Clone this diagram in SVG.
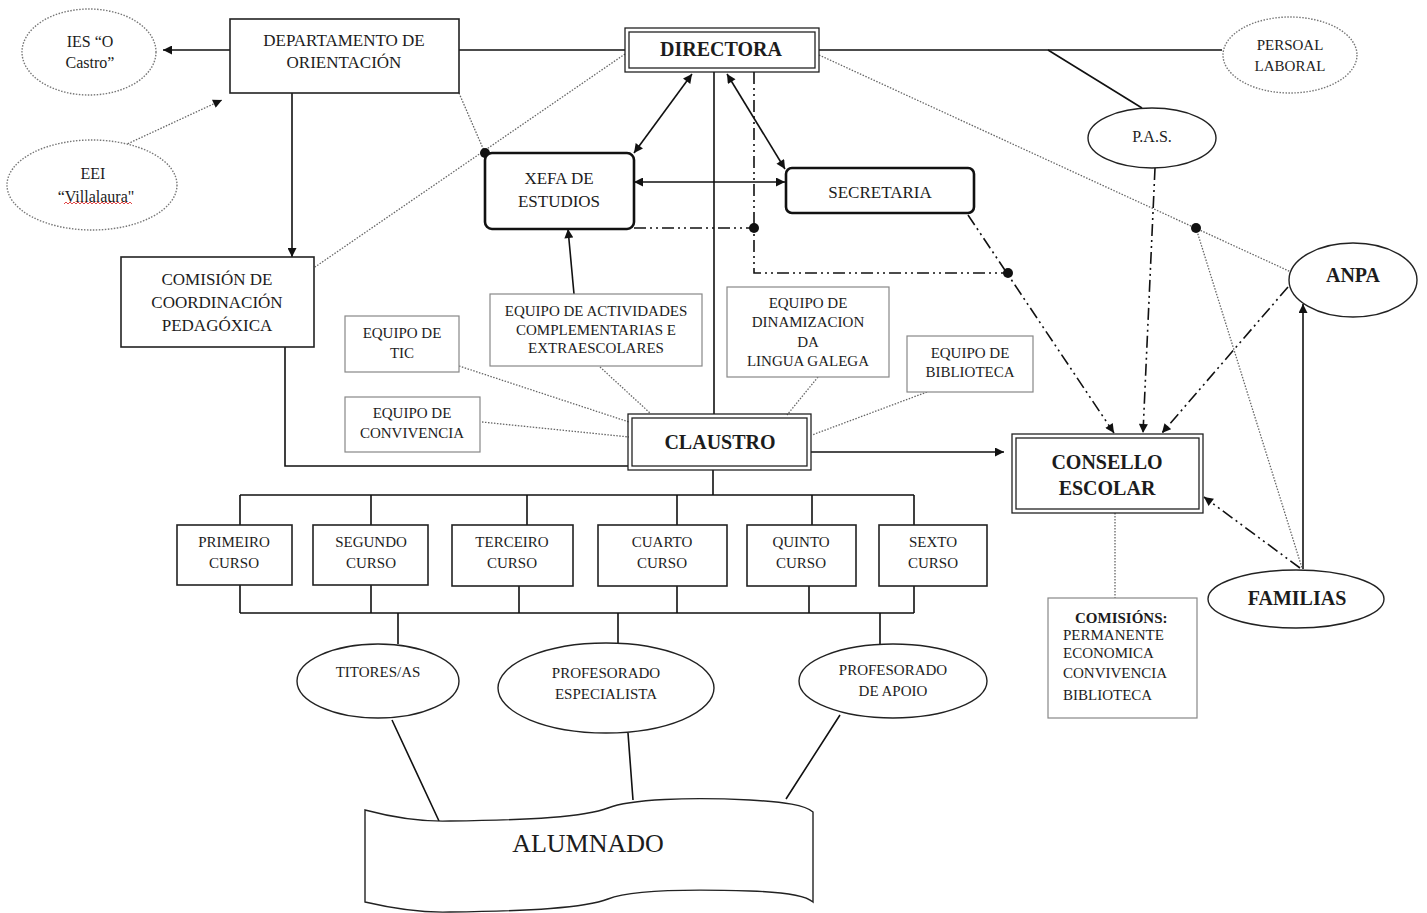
<svg xmlns="http://www.w3.org/2000/svg" width="1427" height="913" viewBox="0 0 1427 913">
<defs>
<marker id="arr" viewBox="0 0 10 10" refX="10" refY="5" markerWidth="10" markerHeight="9" markerUnits="userSpaceOnUse" orient="auto-start-reverse"><path d="M0,0 L10,5 L0,10 z" fill="#111" stroke="none"/></marker>
</defs>
<style>
text{font-family:"Liberation Serif","Times New Roman",serif;fill:#1c1c1c;text-anchor:middle;dominant-baseline:central}
.t15{font-size:15px}.t16{font-size:16px}.t17{font-size:17px}
.b{font-weight:bold;font-size:20px}
.box{fill:#fff;stroke:#222;stroke-width:1.6}
.gbox{fill:#fff;stroke:#888;stroke-width:1.2}
.rbox{fill:#fff;stroke:#111;stroke-width:2.6}
.dbox{fill:none;stroke:#222;stroke-width:1.3}
.ell{fill:#fff;stroke:#222;stroke-width:1.4}
.dell{fill:#fff;stroke:#777;stroke-width:1.4;stroke-dasharray:1.5 1.5}
.s{fill:none;stroke:#111;stroke-width:1.6}
.d{fill:none;stroke:#666;stroke-width:1.3;stroke-dasharray:1.5 1.5}
.dd{fill:none;stroke:#111;stroke-width:1.6;stroke-dasharray:12 4 2 4 2 4}
.ae{marker-end:url(#arr)}
.a2{marker-start:url(#arr);marker-end:url(#arr)}
.dot{fill:#111}
</style>
<rect width="1427" height="913" fill="#fff"/>

<g id="connectors">
<path class="s ae" d="M230,50 L163,50"/>
<path class="s" d="M459,50 L625,50"/>
<path class="s" d="M819,50 L1222,50"/>
<path class="s" d="M1048,50 L1142,108"/>
<path class="s a2" d="M692,74 L634,153"/>
<path class="s a2" d="M727,74 L785,169"/>
<path class="s a2" d="M634,182 L785,182"/>
<path class="s" d="M714,72 L714,414"/>
<path class="s ae" d="M292,93 L292,257"/>
<path class="s ae" d="M574,294 L568,229"/>
<path class="s" d="M285,347 L285,466 L628,466"/>
<path class="s ae" d="M811,452 L1004,452"/>
<path class="s ae" d="M1303,569 L1303,304"/>
<path class="s" d="M713,470 L713,495 M240,495 L914,495 M240,495 V525 M371,495 V525 M527,495 V525 M677,495 V525 M812,495 V525 M914,495 V525"/>
<path class="s" d="M240,585 V613 M371,585 V613 M519,586 V613 M677,586 V613 M809,586 V613 M914,586 V613 M240,613 H914 M398,613 V644 M618,613 V643 M880,613 V644"/>
<path class="s" d="M392,720 L439,821 M628,733 L633,800 M840,715 L786,799"/>

<path class="d ae" d="M125,145 L222,100"/>
<path class="d" d="M459,93 L485,153"/>
<path class="d" d="M625,54 L315,267"/>
<path class="d" d="M819,55 L1291,272"/>
<path class="d" d="M1196,228 L1302,568"/>
<path class="d" d="M459,366 L629,422"/>
<path class="d" d="M482,422 L629,437"/>
<path class="d" d="M600,367 L650,413"/>
<path class="d" d="M818,377 L787,415"/>
<path class="d" d="M927,392 L812,435"/>
<path class="d" d="M1115,513 V598"/>

<path class="dd" d="M754,72 V273 H1008"/>
<path class="dd" d="M634,228 H754"/>
<path class="dd ae" d="M968,215 L1114,433"/>
<path class="dd ae" d="M1155,168 L1143,433"/>
<path class="dd ae" d="M1288,287 L1162,433"/>
<path class="dd ae" d="M1300,568 L1204,497"/>

<circle class="dot" cx="485" cy="153" r="5"/>
<circle class="dot" cx="754" cy="228" r="5"/>
<circle class="dot" cx="1008" cy="273" r="5"/>
<circle class="dot" cx="1196" cy="228" r="5"/>
</g>

<g id="ies">
<ellipse class="dell" cx="89" cy="52" rx="67" ry="43"/>
<text class="t16" x="90" y="41">IES “O</text>
<text class="t16" x="90" y="62">Castro”</text>
</g>
<g id="eei">
<ellipse class="dell" cx="92" cy="185" rx="85" ry="45"/>
<text class="t16" x="93" y="173">EEI</text>
<text class="t16" x="96" y="196">“Villalaura"</text>
<path d="M64,204 l2,-2 l2,2 l2,-2 l2,2 l2,-2 l2,2 l2,-2 l2,2 l2,-2 l2,2 l2,-2 l2,2 l2,-2 l2,2 l2,-2 l2,2 l2,-2 l2,2 l2,-2 l2,2 l2,-2 l2,2 l2,-2 l2,2 l2,-2 l2,2 l2,-2 l2,2 l2,-2 l2,2 l2,-2 l2,2 l2,-2 l2,2" fill="none" stroke="#d33" stroke-width="0.9"/>
</g>
<g id="departamento">
<rect class="box" x="230" y="19" width="229" height="74"/>
<text class="t17" x="344" y="40">DEPARTAMENTO  DE</text>
<text class="t17" x="344" y="62">ORIENTACIÓN</text>
</g>
<g id="directora">
<rect class="dbox" x="625" y="28" width="194" height="44"/>
<rect class="dbox" x="629" y="32" width="186" height="36"/>
<text class="b" x="721" y="49">DIRECTORA</text>
</g>
<g id="persoal">
<ellipse class="dell" cx="1290" cy="55" rx="67" ry="38"/>
<text class="t15" x="1290" y="45">PERSOAL</text>
<text class="t15" x="1290" y="66">LABORAL</text>
</g>
<g id="pas">
<ellipse class="ell" cx="1152" cy="138" rx="64" ry="30"/>
<text class="t16" x="1152" y="136">P.A.S.</text>
</g>
<g id="xefa">
<rect class="rbox" x="485" y="153" width="149" height="76" rx="7"/>
<text class="t17" x="559" y="178">XEFA DE</text>
<text class="t17" x="559" y="201">ESTUDIOS</text>
</g>
<g id="secretaria">
<rect class="rbox" x="786" y="168" width="188" height="45" rx="6"/>
<text class="t17" x="880" y="192">SECRETARIA</text>
</g>
<g id="comision-coordinacion">
<rect class="box" x="121" y="257" width="193" height="90"/>
<text class="t17" x="217" y="279">COMISIÓN DE</text>
<text class="t17" x="217" y="302">COORDINACIÓN</text>
<text class="t17" x="217" y="325">PEDAGÓXICA</text>
</g>
<g id="equipo-tic">
<rect class="gbox" x="345" y="316" width="114" height="56"/>
<text class="t15" x="402" y="333">EQUIPO DE</text>
<text class="t15" x="402" y="353">TIC</text>
</g>
<g id="equipo-convivencia">
<rect class="gbox" x="345" y="397" width="135" height="55"/>
<text class="t15" x="412" y="413">EQUIPO DE</text>
<text class="t15" x="412" y="433">CONVIVENCIA</text>
</g>
<g id="equipo-actividades">
<rect class="gbox" x="490" y="294" width="212" height="72"/>
<text class="t15" x="596" y="311">EQUIPO DE ACTIVIDADES</text>
<text class="t15" x="596" y="330">COMPLEMENTARIAS E</text>
<text class="t15" x="596" y="348">EXTRAESCOLARES</text>
</g>
<g id="equipo-dinamizacion">
<rect class="gbox" x="727" y="287" width="162" height="90"/>
<text class="t15" x="808" y="303">EQUIPO DE</text>
<text class="t15" x="808" y="322">DINAMIZACION</text>
<text class="t15" x="808" y="342">DA</text>
<text class="t15" x="808" y="361">LINGUA GALEGA</text>
</g>
<g id="equipo-biblioteca">
<rect class="gbox" x="907" y="336" width="126" height="56"/>
<text class="t15" x="970" y="353">EQUIPO DE</text>
<text class="t15" x="970" y="372">BIBLIOTECA</text>
</g>
<g id="claustro">
<rect class="dbox" x="628" y="414" width="183" height="56"/>
<rect class="dbox" x="632" y="418" width="175" height="48"/>
<text class="b" x="720" y="442">CLAUSTRO</text>
</g>
<g id="anpa">
<ellipse class="ell" cx="1353" cy="280" rx="64" ry="37"/>
<text class="b" x="1353" y="275">ANPA</text>
</g>
<g id="consello">
<rect class="dbox" x="1012" y="434" width="191" height="79"/>
<rect class="dbox" x="1016" y="438" width="183" height="71"/>
<text class="b" x="1107" y="462">CONSELLO</text>
<text class="b" x="1107" y="488">ESCOLAR</text>
</g>
<g id="familias">
<ellipse class="ell" cx="1296" cy="599" rx="88" ry="29"/>
<text class="b" x="1297" y="598">FAMILIAS</text>
</g>
<g id="comisions">
<rect class="gbox" x="1048" y="598" width="149" height="120"/>
<text class="t15" x="1075" y="618" style="text-anchor:start;font-weight:bold">COMISIÓNS:</text>
<text class="t15" x="1063" y="635" style="text-anchor:start">PERMANENTE</text>
<text class="t15" x="1063" y="653" style="text-anchor:start">ECONOMICA</text>
<text class="t15" x="1063" y="673" style="text-anchor:start">CONVIVENCIA</text>
<text class="t15" x="1063" y="695" style="text-anchor:start">BIBLIOTECA</text>
</g>
<g id="primeiro">
<rect class="box" x="177" y="525" width="115" height="60"/>
<text class="t15" x="234" y="542">PRIMEIRO</text>
<text class="t15" x="234" y="563">CURSO</text>
</g>
<g id="segundo">
<rect class="box" x="313" y="525" width="115" height="60"/>
<text class="t15" x="371" y="542">SEGUNDO</text>
<text class="t15" x="371" y="563">CURSO</text>
</g>
<g id="terceiro">
<rect class="box" x="452" y="525" width="121" height="61"/>
<text class="t15" x="512" y="542">TERCEIRO</text>
<text class="t15" x="512" y="563">CURSO</text>
</g>
<g id="cuarto">
<rect class="box" x="598" y="525" width="129" height="61"/>
<text class="t15" x="662" y="542">CUARTO</text>
<text class="t15" x="662" y="563">CURSO</text>
</g>
<g id="quinto">
<rect class="box" x="747" y="525" width="109" height="61"/>
<text class="t15" x="801" y="542">QUINTO</text>
<text class="t15" x="801" y="563">CURSO</text>
</g>
<g id="sexto">
<rect class="box" x="879" y="525" width="108" height="61"/>
<text class="t15" x="933" y="542">SEXTO</text>
<text class="t15" x="933" y="563">CURSO</text>
</g>
<g id="titores">
<ellipse class="ell" cx="378" cy="681" rx="81" ry="37"/>
<text class="t15" x="378" y="672">TITORES/AS</text>
</g>
<g id="especialista">
<ellipse class="ell" cx="606" cy="688" rx="108" ry="45"/>
<text class="t15" x="606" y="673">PROFESORADO</text>
<text class="t15" x="606" y="694">ESPECIALISTA</text>
</g>
<g id="apoio">
<ellipse class="ell" cx="893" cy="681" rx="94" ry="37"/>
<text class="t15" x="893" y="670">PROFESORADO</text>
<text class="t15" x="893" y="691">DE APOIO</text>
</g>
<g id="alumnado">
<path d="M365,810 C395,818 420,822 450,821 C530,820 585,817 608,808 C630,799 690,797 750,800 C785,802 805,805 813,812 L813,902 C805,895 785,892 750,891 C690,889 630,890 608,899 C585,908 530,911 450,912 C420,913 395,909 365,902 Z" fill="#fff" stroke="#222" stroke-width="1.4"/>
<text x="588" y="843" style="font-size:26px">ALUMNADO</text>
</g>
</svg>
